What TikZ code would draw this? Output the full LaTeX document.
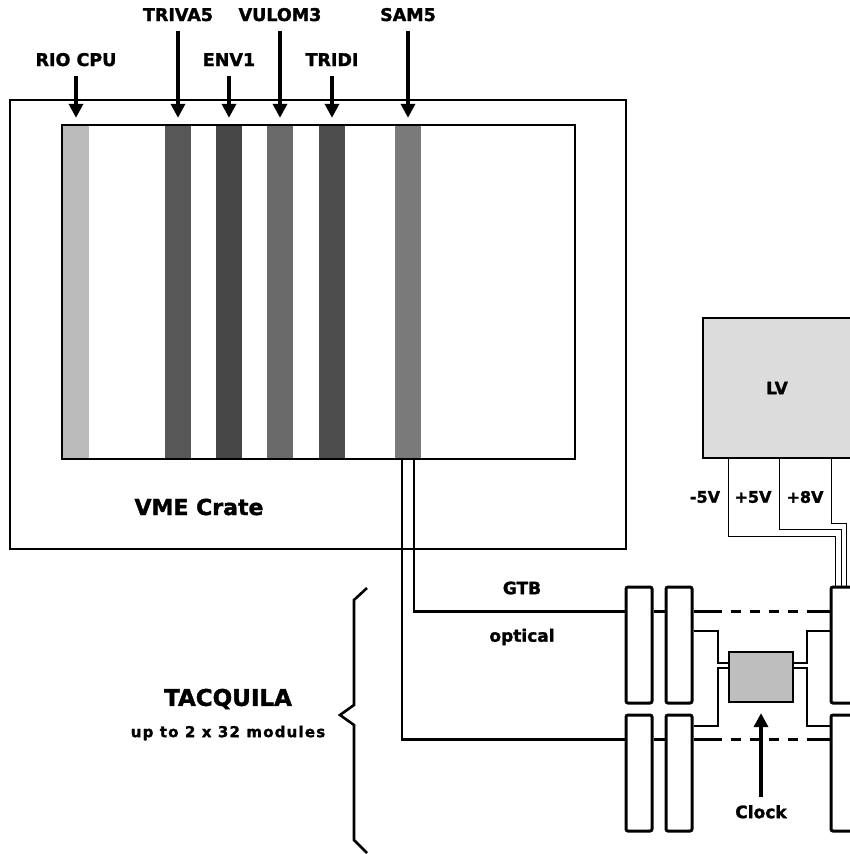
\documentclass[tikz,border=0pt]{standalone}
\usepackage{fontspec}
\setmainfont[BoldFeatures={FakeBold=1.6}]{DejaVu Sans}
\usetikzlibrary{arrows.meta}
\definecolor{crio}{HTML}{BBBBBB}
\definecolor{ctriva}{HTML}{575757}
\definecolor{cenv}{HTML}{474747}
\definecolor{cvulom}{HTML}{6A6A6A}
\definecolor{ctridi}{HTML}{4D4D4D}
\definecolor{csam}{HTML}{7A7A7A}
\definecolor{clv}{HTML}{DCDCDC}
\definecolor{cclk}{HTML}{BEBEBE}
\tikzset{
  lbl/.style={font=\fontsize{#1}{#1}\selectfont\bfseries, inner sep=0pt},
  lbl/.default=17,
  frame/.style={draw, line width=#1, inner sep=0pt},
  slot/.style={fill=#1, minimum width=26pt, minimum height=334pt, inner sep=0pt},
  module/.style={draw, line width=3pt, rounded corners=2pt, minimum width=26pt, minimum height=116pt, inner sep=0pt},
  pointer/.style={-{Triangle[length=14pt, width=14pt]}, line width=3.4pt},
  fibre/.style={line width=2.8pt},
  lvwire/.style={line width=1.5pt},
  clkwire/.style={line width=2pt},
  gap/.style={line width=3pt, dash pattern=on 28pt off 9pt on 10pt off 9pt on 10pt off 9pt on 10pt off 9pt on 10pt off 9pt on 30pt},
}
\begin{document}
\begin{tikzpicture}[x=1pt, y=-1pt]
  \useasboundingbox (0,0) rectangle (850,854);
  \clip (0,0) rectangle (850,854);
  % VME crate with its boards
  \node[frame=1.4pt, minimum width=616pt, minimum height=449pt] (crate) at (318,324.5) {};
  \node[lbl=22] (cratelbl) at (199,507) {VME Crate};
  \foreach \i/\x/\y/\txt/\col in {1/76/66/RIO CPU/crio, 2/178/21/TRIVA5/ctriva,
      3/229/66/ENV1/cenv, 4/280/21/VULOM3/cvulom, 5/332/66/TRIDI/ctridi, 6/408/21/SAM5/csam} {
    \node[slot=\col] (bar\i) at (\x,292) {};
    \node[lbl=17.5, anchor=base] (lab\i) at (\x,\y) {\txt};
    \draw[pointer, shorten <=10pt, shorten >=7pt] (lab\i.south) -- (bar\i.north);
  }
  \node[frame=1.7pt, minimum width=513pt, minimum height=334pt] (rack) at (318.5,292) {};
  % low voltage supply
  \node[frame=1.3pt, fill=clv, minimum width=148pt, minimum height=140pt, lbl] (lv) at (777,388) {LV};
  \foreach \x/\v in {705/-5V, 753/+5V, 805/+8V}
    \node[lbl=16] (v\x) at (\x,497) {\v};
  % TACQUILA modules
  \foreach \n/\x/\y in {A1/639/645, B1/679/645, R1/844/645, A2/639/773, B2/679/773, R2/844/773}
    \node[module] (mod\n) at (\x,\y) {};
  \foreach \dx/\dy/\ex in {26/78/6, 77/71/12, 129/65/17}
    \draw[lvwire] ([xshift=\dx pt]lv.south west) -- ++(0,\dy) -| ([xshift=\ex pt]modR1.north west);
  \node[frame=2.2pt, fill=cclk, minimum width=64pt, minimum height=50pt] (clk) at (761,677) {};
  \node[lbl, anchor=north] (clklbl) at (761,805) {Clock};
  \draw[pointer, shorten <=8pt, shorten >=10pt] (clklbl.north) -- (clk.south);
  % fibres from SAM5
  \draw[fibre] ([xshift=6pt]bar6.south) |- ([yshift=-26pt]modA1.north west);
  \draw[fibre] ([xshift=-6pt]bar6.south) |- ([yshift=-26pt]modA2.north west);
  \foreach \r in {1,2} {
    \draw[fibre] ([yshift=-26pt]modA\r.north east) -- ([yshift=-26pt]modB\r.north west);
    \draw[gap] ([yshift=-26pt]modB\r.north east) -- ([yshift=-26pt]modR\r.north west);
  }
  \node[lbl] (gtb) at (522,588) {GTB};
  \node[lbl] (optical) at (522,637) {optical};
  % clock distribution
  \draw[clkwire] ([yshift=-45pt]modB1.north east) -- ++(24,0) |- ([yshift=-12pt]clk.north west);
  \draw[clkwire] ([yshift=-12pt]modB2.north east) -- ++(24,0) |- ([yshift=-17pt]clk.north west);
  \draw[clkwire] ([yshift=-12pt]clk.north east) -- ++(13,0) |- ([yshift=-45pt]modR1.north west);
  \draw[clkwire] ([yshift=-17pt]clk.north east) -- ++(13,0) |- ([yshift=-12pt]modR2.north west);
  % brace
  \draw[line width=2.6pt] (367,588) -- (354,600) -- (354,705) -- (340,715) -- (354,725) -- (354,840) -- (367,853);
  \node[lbl=23] (tacq) at (228,699) {TACQUILA};
  \node[lbl=15] (tacqsub) at (228,733) {\addfontfeature{LetterSpace=8}up to 2 x 32 modules};
\end{tikzpicture}
\end{document}
